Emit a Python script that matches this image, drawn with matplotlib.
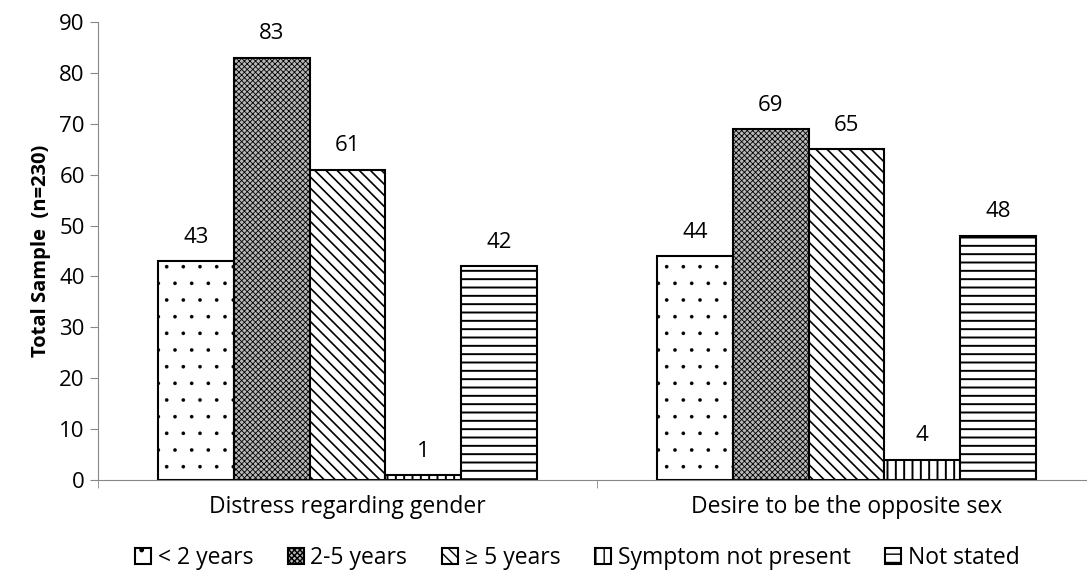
import matplotlib
matplotlib.use("Agg")
import matplotlib.pyplot as plt
import numpy as np

categories = ["Distress regarding gender", "Desire to be the opposite sex"]
series = ["< 2 years", "2-5 years", "\u2265 5 years", "Symptom not present", "Not stated"]
values = [
    [43, 44],
    [83, 69],
    [61, 65],
    [1, 4],
    [42, 48],
]
hatches = [".", "xxxxxx", "\\\\\\", "||", "--"]
faces = ["white", "#b8b8b8", "white", "white", "white"]
hatch_lw = [0.2, 0.6, 1.2, 1.4, 1.4]

plt.rcParams["font.family"] = ["Open Sans", "DejaVu Sans"]
plt.rcParams["hatch.linewidth"] = 1.0

fig = plt.figure(figsize=(10.87, 5.83), dpi=100)
ax = fig.add_axes([0.0902, 0.1767, 0.918, 0.7856])

x = np.arange(len(categories))
w = 0.152
for i, (name, vals) in enumerate(zip(series, values)):
    pos = x + (i - 2) * w
    bars = ax.bar(pos, vals, w, facecolor=faces[i], edgecolor="black",
                  hatch=hatches[i], linewidth=1.5, label=name)
    for b in bars:
        try:
            b.set_hatch_linewidth(hatch_lw[i])
        except AttributeError:
            pass
    for b, v in zip(bars, vals):
        ax.text(b.get_x() + b.get_width() / 2, v + 2.6, str(v),
                ha="center", va="bottom", fontsize=16)

ax.set_xlim(-0.5, 1.5)
ax.set_ylim(0, 90)
ax.set_yticks(range(0, 91, 10))
ax.set_xticks(x)
ax.set_xticklabels(categories, fontsize=16.5)
ax.set_xticks([-0.5, 0.5, 1.5], minor=True)
ax.tick_params(axis="x", which="major", length=0, pad=11)
ax.tick_params(axis="x", which="minor", length=6, color="#888888")
ax.tick_params(axis="y", labelsize=16, length=6, color="#888888")
for s in ["top", "right"]:
    ax.spines[s].set_visible(False)
for s in ["left", "bottom"]:
    ax.spines[s].set_color("#888888")
ax.set_ylabel("Total Sample  (n=230)", fontsize=14.5, fontweight="bold", labelpad=6)

ax.legend(loc="upper center", bbox_to_anchor=(0.48, -0.1), ncol=5, frameon=False,
          fontsize=16.5, handlelength=0.7, handleheight=0.7, handletextpad=0.3,
          columnspacing=1.5)

fig.savefig("out.png", dpi=100)
